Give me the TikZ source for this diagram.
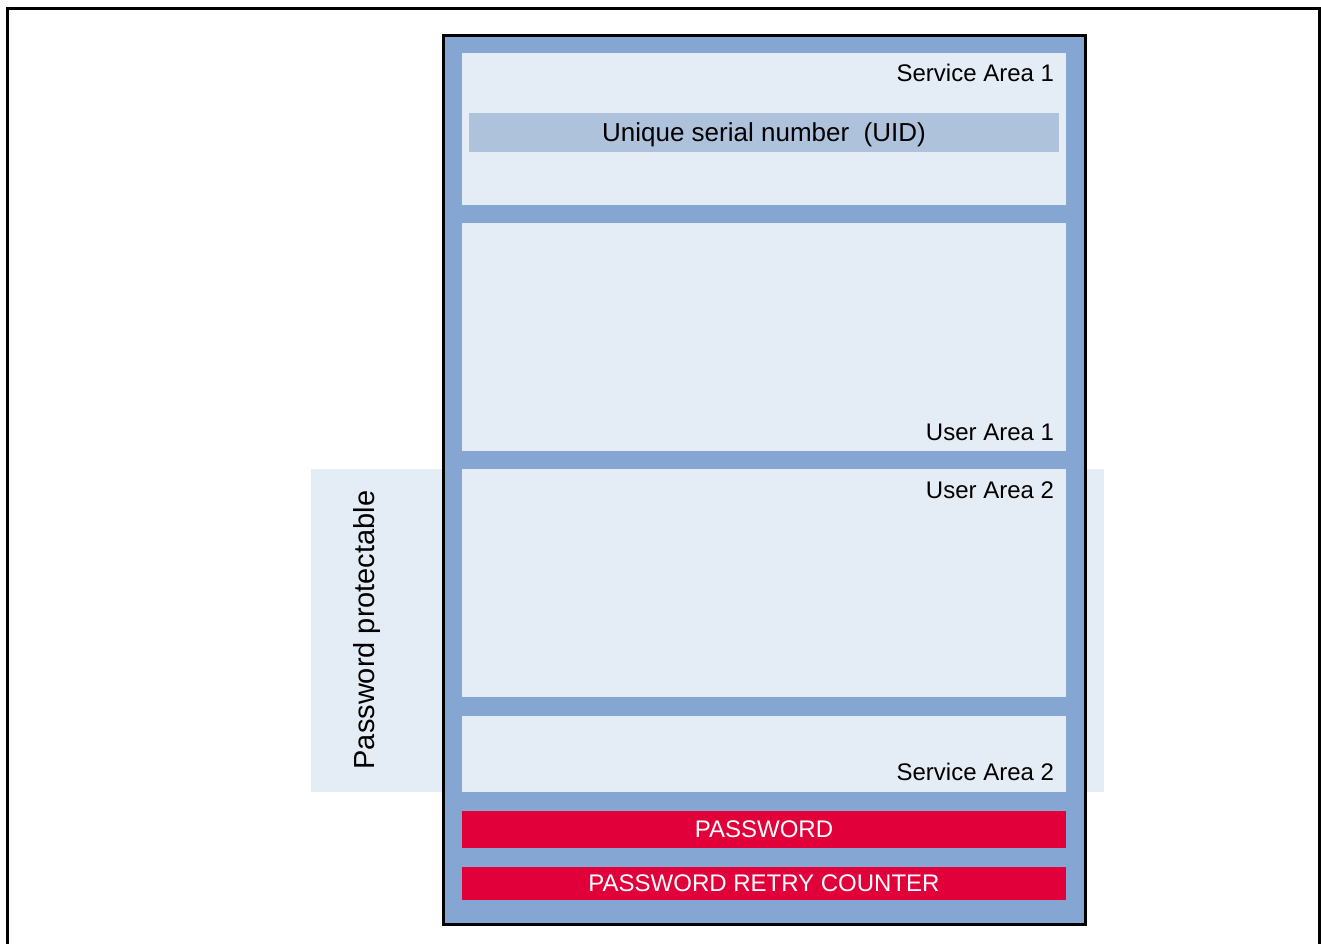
\documentclass[tikz,border=0pt]{standalone}
\usepackage{fontspec}
\setmainfont{Liberation Sans}
\usetikzlibrary{positioning}
\definecolor{memblue}{HTML}{85A5D3}
\definecolor{arealight}{HTML}{E4ECF5}
\definecolor{uidblue}{HTML}{AFC2DC}
\definecolor{pwred}{HTML}{E2003A}

\begin{document}
\begin{tikzpicture}[x=1pt,y=-1pt,inner sep=0pt,outer sep=0pt,
area/.style={fill=arealight,minimum width=604pt,anchor=north},
redbar/.style={fill=pwred,text=white,minimum width=604pt,font=\fontsize{24}{28}\selectfont},
lbl/.style={anchor=base east,font=\fontsize{24}{28}\selectfont}]
\useasboundingbox (0,0) rectangle (1321,943);
% frame, open at the bottom
\draw[line width=3pt] (7.5,945) -- (7.5,8.5) -- (1319.5,8.5) -- (1319.5,945);

% password protectable band behind the memory
\node (prot) [fill=arealight,minimum width=793pt,minimum height=323pt,anchor=north west] at (311,469) {};
\node (protlbl) [rotate=90,font=\fontsize{29}{34}\selectfont] at (367,630) {Password protectable};

\node (mem) [draw,line width=3pt,fill=memblue,minimum width=642pt,minimum height=889pt,anchor=north west] at (443,35) {};

% areas
\node (sa1) [area,minimum height=152pt] at (764,53) {};
\node (ua1) [area,minimum height=228pt,below=18pt of sa1] {};
\node (ua2) [area,minimum height=228pt,below=18pt of ua1] {};
\node (sa2) [area,minimum height=76pt,below=19pt of ua2] {};
\node (pw) [redbar,minimum height=37pt,below=19pt of sa2] {PASSWORD};
\node (prc) [redbar,minimum height=33pt,below=19pt of pw] {PASSWORD RETRY COUNTER};

\node (uid) [fill=uidblue,minimum width=590pt,minimum height=39pt,text depth=0pt,font=\fontsize{26}{30}\selectfont] at (764,132.5) {Unique serial number~~(UID)};

% labels
\node (sa1lbl) [lbl] at ([shift={(-12,28)}]sa1.north east) {Service Area 1};
\node (ua1lbl) [lbl] at ([shift={(-12,-11)}]ua1.south east) {User Area 1};
\node (ua2lbl) [lbl] at ([shift={(-12,29)}]ua2.north east) {User Area 2};
\node (sa2lbl) [lbl] at ([shift={(-12,-12)}]sa2.south east) {Service Area 2};
\end{tikzpicture}
\end{document}
